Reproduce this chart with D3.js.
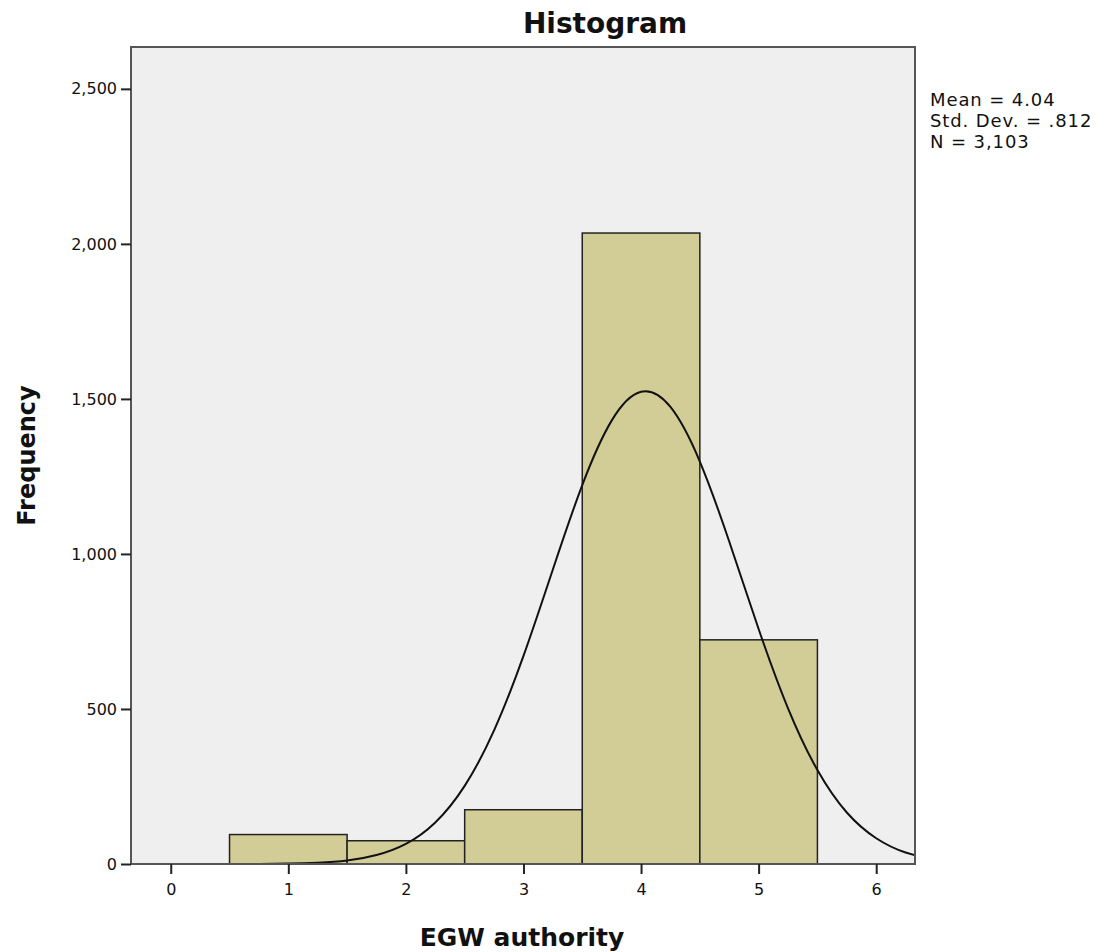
<!DOCTYPE html>
<html>
<head>
<meta charset="utf-8">
<script src="https://cdn.jsdelivr.net/npm/d3@7"></script>
<style>
  body { margin: 0; background: #fff; }
  text { font-family: "DejaVu Sans", sans-serif; fill: #111; }
</style>
</head>
<body>
<div id="chart"></div>
<script>
// bins of the histogram (from/to) and their counts
var binStart = [0.5, 1.5, 2.5, 3.5, 4.5];
var binEnd = [1.5, 2.5, 3.5, 4.5, 5.5];
var counts = [95, 75, 175, 2035, 723];

// fitted normal curve
var curveX = [-0.5, -0.25, 0, 0.25, 0.5, 0.75, 1, 1.25, 1.5, 1.75, 2, 2.25, 2.5, 2.75, 3, 3.25, 3.5, 3.75, 4, 4.25, 4.5, 4.75, 5, 5.25, 5.5, 5.75, 6, 6.25, 6.5];
var curveY = [0, 0, 0, 0, 0.1, 0.4, 1.4, 4.2, 11, 29, 65, 134, 252, 431, 671, 950, 1222, 1430, 1523, 1474, 1298, 1040, 758, 502, 303, 166, 83, 37, 15];

var xTicks = [0, 1, 2, 3, 4, 5, 6];
var yTicks = [0, 500, 1000, 1500, 2000, 2500];
var stats = ["Mean = 4.04", "Std. Dev. = .812", "N = 3,103"];

function draw_histogram() {
  var width = 1103;
  var height = 952;
  var pLeft = 131, pRight = 915, pTop = 47, pBottom = 864;

  var svg = d3.select("#chart").append("svg")
    .attr("width", width)
    .attr("height", height);

  var x = d3.scaleLinear().domain([-0.338, 6.33]).range([pLeft, pRight]);
  var y = d3.scaleLinear().domain([0, 2635]).range([pBottom, pTop]);

  svg.append("rect")
    .attr("x", pLeft).attr("y", pTop)
    .attr("width", pRight - pLeft).attr("height", pBottom - pTop)
    .attr("fill", "#efefef");

  svg.append("clipPath").attr("id", "clip")
    .append("rect")
    .attr("x", pLeft).attr("y", pTop)
    .attr("width", pRight - pLeft).attr("height", pBottom - pTop);

  svg.selectAll(".bar")
    .data(counts)
    .enter().append("rect")
    .attr("class", "bar")
    .attr("x", function(d, i) { return x(binStart[i]); })
    .attr("y", function(d) { return y(d); })
    .attr("width", function(d, i) { return x(binEnd[i]) - x(binStart[i]); })
    .attr("height", function(d) { return y(0) - y(d); })
    .attr("fill", "#d2cd96")
    .attr("stroke", "#222")
    .attr("stroke-width", 1.5);

  var line = d3.line()
    .x(function(d, i) { return x(curveX[i]); })
    .y(function(d) { return y(d); })
    .curve(d3.curveNatural);

  svg.append("path")
    .datum(curveY)
    .attr("clip-path", "url(#clip)")
    .attr("fill", "none")
    .attr("stroke", "#111")
    .attr("stroke-width", 2)
    .attr("d", line);

  // frame
  svg.append("rect")
    .attr("x", pLeft).attr("y", pTop)
    .attr("width", pRight - pLeft).attr("height", pBottom - pTop)
    .attr("fill", "none")
    .attr("stroke", "#555")
    .attr("stroke-width", 2);

  var xAxis = svg.append("g")
    .attr("transform", "translate(0," + pBottom + ")")
    .call(d3.axisBottom(x).tickValues(xTicks).tickSize(10).tickPadding(10).tickFormat(d3.format("d")));
  xAxis.select(".domain").remove();
  xAxis.selectAll("line").attr("stroke", "#222").attr("stroke-width", 2);
  xAxis.selectAll("text").style("font-size", "16px").attr("fill", "#222");

  var yAxis = svg.append("g")
    .attr("transform", "translate(" + pLeft + ",0)")
    .call(d3.axisLeft(y).tickValues(yTicks).tickSize(10).tickPadding(4).tickFormat(d3.format(",")));
  yAxis.select(".domain").remove();
  yAxis.selectAll("line").attr("stroke", "#222").attr("stroke-width", 2);
  yAxis.selectAll("text").style("font-size", "16px").attr("fill", "#222");

  svg.append("text")
    .text("Histogram")
    .attr("x", 605)
    .attr("y", 33)
    .attr("text-anchor", "middle")
    .style("font-size", "28px")
    .style("font-weight", "bold");

  svg.append("text")
    .text("EGW authority")
    .attr("x", (pLeft + pRight) / 2 - 1)
    .attr("y", 946)
    .attr("text-anchor", "middle")
    .style("font-size", "25px")
    .style("font-weight", "bold");

  svg.append("text")
    .text("Frequency")
    .attr("transform", "translate(35," + ((pTop + pBottom) / 2) + ") rotate(-90)")
    .attr("text-anchor", "middle")
    .style("font-size", "24px")
    .style("font-weight", "bold");

  svg.selectAll(".stat")
    .data(stats)
    .enter().append("text")
    .attr("class", "stat")
    .text(function(d) { return d; })
    .attr("x", 930)
    .attr("y", function(d, i) { return 106 + i * 21; })
    .style("font-size", "18px")
    .style("letter-spacing", "0.9px");
}

draw_histogram();
</script>
</body>
</html>
